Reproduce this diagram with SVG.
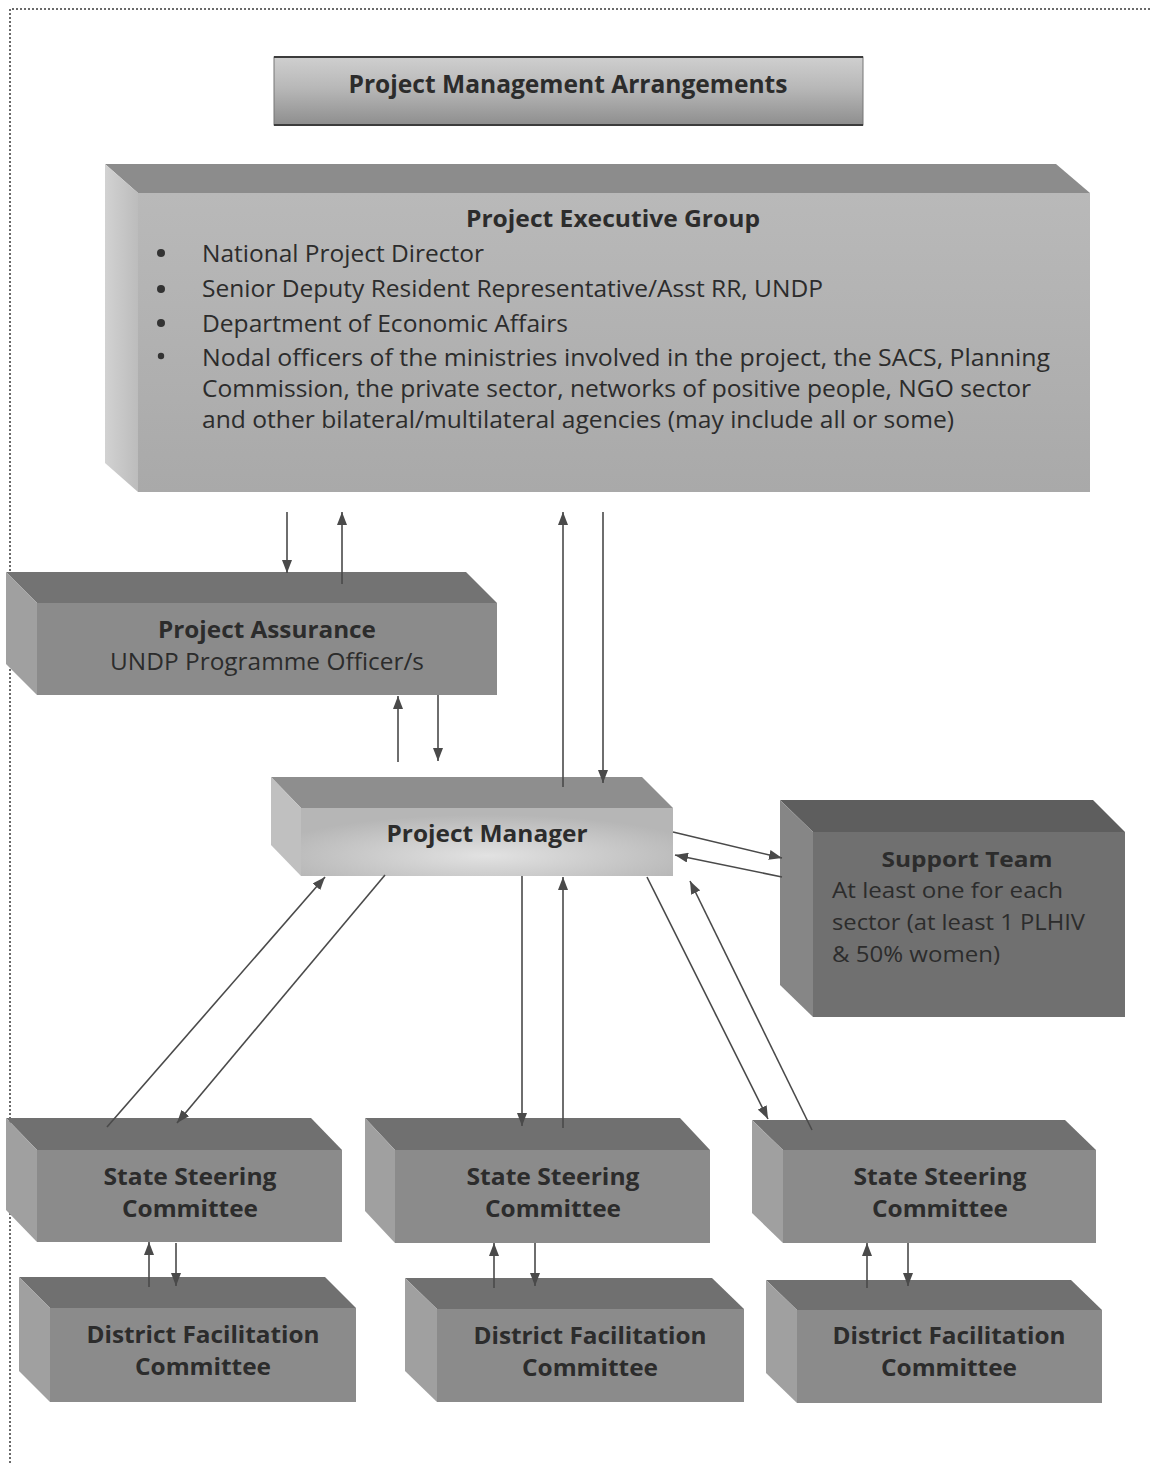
<svg xmlns="http://www.w3.org/2000/svg" width="1150" height="1463" viewBox="0 0 1150 1463">
<defs>
<style>
.t{font-family:"Open Sans","Noto Sans","Liberation Sans",sans-serif;fill:#2c2c2c;}
.b{font-weight:bold;}
.c{text-anchor:middle;}
.top{fill:#707070;}
.front{fill:#8b8b8b;}
.left{fill:#a0a0a0;}
.con line{stroke:#4a4a4a;stroke-width:1.6;marker-end:url(#ah);}
</style>
<marker id="ah" viewBox="0 0 13 10" refX="13" refY="5" markerWidth="13" markerHeight="10" markerUnits="userSpaceOnUse" orient="auto">
<path d="M0,0 L13,5 L0,10 z" fill="#4a4a4a"/>
</marker>
<linearGradient id="gTitle" x1="0" y1="0" x2="0" y2="1">
<stop offset="0" stop-color="#cfcfcf"/>
<stop offset="0.45" stop-color="#b8b8b8"/>
<stop offset="1" stop-color="#8e8e8e"/>
</linearGradient>
<linearGradient id="gPegFront" x1="0" y1="0" x2="0" y2="1">
<stop offset="0" stop-color="#b9b9b9"/>
<stop offset="1" stop-color="#a9a9a9"/>
</linearGradient>
<linearGradient id="gPegLeft" x1="0" y1="0" x2="1" y2="0">
<stop offset="0" stop-color="#d2d2d2"/>
<stop offset="1" stop-color="#bcbcbc"/>
</linearGradient>
<radialGradient id="gPm" cx="0.5" cy="0.7" r="0.6">
<stop offset="0" stop-color="#e2e2e2"/>
<stop offset="1" stop-color="#b6b6b6"/>
</radialGradient>
</defs>
<rect x="0" y="0" width="1150" height="1463" fill="#ffffff"/>
<g id="frame">
<path d="M10,1463 L10,9 L1150,9" fill="none" stroke="#6a6a6a" stroke-width="2" stroke-dasharray="2 2"/>
</g>

<g id="title">
<rect x="274" y="57" width="589" height="68" fill="url(#gTitle)" stroke="#777" stroke-width="1"/>
<line x1="274" y1="57" x2="863" y2="57" stroke="#3c3c3c" stroke-width="2"/>
<line x1="274" y1="125" x2="863" y2="125" stroke="#3c3c3c" stroke-width="2"/>
<text class="t b c" x="568" y="93" font-size="25" textLength="439" lengthAdjust="spacingAndGlyphs">Project Management Arrangements</text>
</g>

<g id="peg">
<polygon points="105,164 1056,164 1090,193 138,193" fill="#8c8c8c"/>
<polygon points="105,164 138,193 138,492 105,463" fill="url(#gPegLeft)"/>
<rect x="138" y="193" width="952" height="299" fill="url(#gPegFront)"/>
<text class="t b c" x="613" y="227" font-size="24" textLength="294" lengthAdjust="spacingAndGlyphs">Project Executive Group</text>
<g fill="#333">
<circle cx="161" cy="253" r="4"/>
<circle cx="161" cy="289" r="4"/>
<circle cx="161" cy="323" r="4"/>
<circle cx="161" cy="356" r="3.2"/>
</g>
<text class="t" x="202" y="262" font-size="23" textLength="282" lengthAdjust="spacingAndGlyphs">National Project Director</text>
<text class="t" x="202" y="297" font-size="23" textLength="621" lengthAdjust="spacingAndGlyphs">Senior Deputy Resident Representative/Asst RR, UNDP</text>
<text class="t" x="202" y="332" font-size="23" textLength="366" lengthAdjust="spacingAndGlyphs">Department of Economic Affairs</text>
<text class="t" x="202" y="366" font-size="23" textLength="848" lengthAdjust="spacingAndGlyphs">Nodal officers of the ministries involved in the project, the SACS,  Planning</text>
<text class="t" x="202" y="397" font-size="23" textLength="829" lengthAdjust="spacingAndGlyphs">Commission, the private sector, networks of positive people, NGO sector</text>
<text class="t" x="202" y="428" font-size="23" textLength="752" lengthAdjust="spacingAndGlyphs">and other bilateral/multilateral agencies (may include all or some)</text>
</g>

<g id="pa">
<polygon class="top" points="6,572 466,572 497,603 37,603" style="fill:#737373"/>
<polygon class="left" points="6,572 37,603 37,695 6,664"/>
<rect class="front" x="37" y="603" width="460" height="92"/>
<text class="t b c" x="267" y="638" font-size="23" textLength="218" lengthAdjust="spacingAndGlyphs">Project Assurance</text>
<text class="t c" x="267" y="670" font-size="23" textLength="314" lengthAdjust="spacingAndGlyphs">UNDP Programme Officer/s</text>
</g>

<g id="pm">
<polygon points="271,777 642,777 673,808 301,808" fill="#8e8e8e"/>
<polygon points="271,777 301,808 301,876 271,845" fill="#c0c0c0"/>
<rect x="301" y="808" width="372" height="68" fill="url(#gPm)"/>
<text class="t b c" x="487" y="842" font-size="23" textLength="201" lengthAdjust="spacingAndGlyphs">Project Manager</text>
</g>

<g id="st">
<polygon points="780,800 1093,800 1125,832 813,832" fill="#5e5e5e"/>
<polygon points="780,800 813,832 813,1017 780,985" fill="#868686"/>
<rect x="813" y="832" width="312" height="185" fill="#707070"/>
<text class="t b c" x="967" y="867" font-size="22" textLength="171" lengthAdjust="spacingAndGlyphs">Support Team</text>
<text class="t" x="832" y="898" font-size="22" textLength="231" lengthAdjust="spacingAndGlyphs">At least one for each</text>
<text class="t" x="832" y="930" font-size="22" textLength="253" lengthAdjust="spacingAndGlyphs">sector (at least 1 PLHIV</text>
<text class="t" x="832" y="962" font-size="22" textLength="168" lengthAdjust="spacingAndGlyphs">&amp; 50% women)</text>
</g>

<g id="ssc1">
<polygon class="top" points="6,1118 311,1118 342,1150 37,1150"/>
<polygon class="left" points="6,1118 37,1150 37,1242 6,1210"/>
<rect class="front" x="37" y="1150" width="305" height="92"/>
<text class="t b c" x="190" y="1185" font-size="24" textLength="173" lengthAdjust="spacingAndGlyphs">State Steering</text>
<text class="t b c" x="190" y="1217" font-size="24" textLength="136" lengthAdjust="spacingAndGlyphs">Committee</text>
</g>
<g id="ssc2">
<polygon class="top" points="365,1118 680,1118 710,1150 395,1150"/>
<polygon class="left" points="365,1118 395,1150 395,1243 365,1211"/>
<rect class="front" x="395" y="1150" width="315" height="93"/>
<text class="t b c" x="553" y="1185" font-size="24" textLength="173" lengthAdjust="spacingAndGlyphs">State Steering</text>
<text class="t b c" x="553" y="1217" font-size="24" textLength="136" lengthAdjust="spacingAndGlyphs">Committee</text>
</g>
<g id="ssc3">
<polygon class="top" points="752,1120 1065,1120 1096,1150 783,1150"/>
<polygon class="left" points="752,1120 783,1150 783,1243 752,1213"/>
<rect class="front" x="783" y="1150" width="313" height="93"/>
<text class="t b c" x="940" y="1185" font-size="24" textLength="173" lengthAdjust="spacingAndGlyphs">State Steering</text>
<text class="t b c" x="940" y="1217" font-size="24" textLength="136" lengthAdjust="spacingAndGlyphs">Committee</text>
</g>

<g id="dfc1">
<polygon class="top" points="19,1277 325,1277 356,1308 50,1308"/>
<polygon class="left" points="19,1277 50,1308 50,1402 19,1371"/>
<rect class="front" x="50" y="1308" width="306" height="94"/>
<text class="t b c" x="203" y="1343" font-size="24" textLength="233" lengthAdjust="spacingAndGlyphs">District Facilitation</text>
<text class="t b c" x="203" y="1375" font-size="24" textLength="136" lengthAdjust="spacingAndGlyphs">Committee</text>
</g>
<g id="dfc2">
<polygon class="top" points="405,1278 712,1278 744,1309 437,1309"/>
<polygon class="left" points="405,1278 437,1309 437,1402 405,1371"/>
<rect class="front" x="437" y="1309" width="307" height="93"/>
<text class="t b c" x="590" y="1344" font-size="24" textLength="233" lengthAdjust="spacingAndGlyphs">District Facilitation</text>
<text class="t b c" x="590" y="1376" font-size="24" textLength="136" lengthAdjust="spacingAndGlyphs">Committee</text>
</g>
<g id="dfc3">
<polygon class="top" points="766,1280 1071,1280 1102,1310 797,1310"/>
<polygon class="left" points="766,1280 797,1310 797,1403 766,1373"/>
<rect class="front" x="797" y="1310" width="305" height="93"/>
<text class="t b c" x="949" y="1344" font-size="24" textLength="233" lengthAdjust="spacingAndGlyphs">District Facilitation</text>
<text class="t b c" x="949" y="1376" font-size="24" textLength="136" lengthAdjust="spacingAndGlyphs">Committee</text>
</g>

<g id="connectors" class="con">
<line x1="287" y1="512" x2="287" y2="573"/>
<line x1="342" y1="584" x2="342" y2="512"/>
<line x1="563" y1="787" x2="563" y2="512"/>
<line x1="603" y1="512" x2="603" y2="783"/>
<line x1="398" y1="762" x2="398" y2="696"/>
<line x1="438" y1="695" x2="438" y2="761"/>
<line x1="673" y1="832" x2="782" y2="858"/>
<line x1="782" y1="877" x2="675" y2="855"/>
<line x1="107" y1="1127" x2="325" y2="877"/>
<line x1="385" y1="875" x2="177" y2="1123"/>
<line x1="522" y1="876" x2="522" y2="1126"/>
<line x1="563" y1="1128" x2="563" y2="877"/>
<line x1="647" y1="877" x2="768" y2="1119"/>
<line x1="812" y1="1130" x2="690" y2="881"/>
<line x1="149" y1="1287" x2="149" y2="1242"/>
<line x1="176" y1="1243" x2="176" y2="1286"/>
<line x1="494" y1="1288" x2="494" y2="1243"/>
<line x1="535" y1="1243" x2="535" y2="1286"/>
<line x1="867" y1="1288" x2="867" y2="1243"/>
<line x1="908" y1="1243" x2="908" y2="1286"/>
</g>
</svg>
